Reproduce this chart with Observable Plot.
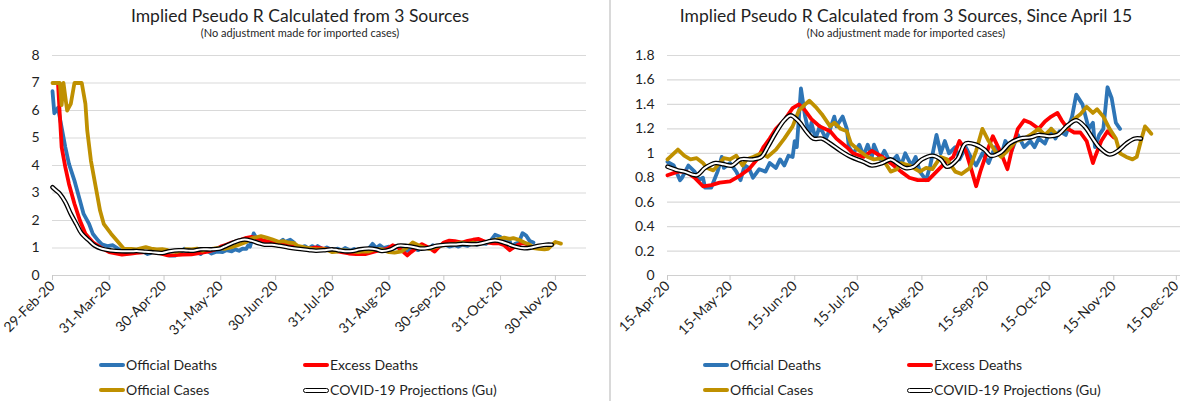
<!DOCTYPE html>
<html>
<head>
<meta charset="utf-8">
<script src="https://cdn.jsdelivr.net/npm/d3@7"></script>
<script src="https://cdn.jsdelivr.net/npm/@observablehq/plot@0.6"></script>
<style>
  html, body { margin: 0; padding: 0; background: #fff; }
  body { width: 1200px; height: 401px; position: relative; overflow: hidden; font-family: Lato, "Open Sans", sans-serif; color: #262626; }
  .panel { position: absolute; top: 0; width: 600px; height: 401px; }
  .title { position: absolute; top: 5px; left: 0; width: 600px; text-align: center; font-size: 17.5px; line-height: 21px; color: #1f1f1f; }
  .subtitle { position: absolute; top: 26px; left: 0; width: 600px; text-align: center; font-size: 11px; line-height: 14px; color: #1f1f1f; }
  .plot { position: absolute; top: 40px; left: 0; }
  .leg { position: absolute; font-size: 14px; line-height: 18px; display: flex; align-items: center; color: #1f1f1f; }
  .sw { display: inline-block; width: 26px; height: 4px; border-radius: 2px; margin-right: 1px; }
  .sw.gu { height: 3px; background: #fff; border: 1px solid #000; width: 24px; border-radius: 3px; }
  .sep { position: absolute; left: 609px; top: 0; width: 1.5px; height: 401px; background: #d9d9d9; }
</style>
</head>
<body>
<div class="sep"></div>
<div class="panel" id="left" style="left:0">
  <div class="title">Implied Pseudo R Calculated from 3 Sources</div>
  <div class="subtitle">(No adjustment made for imported cases)</div>
  <div class="plot" id="leftPlot"></div>
</div>
<div class="panel" id="right" style="left:600px">
  <div class="title" style="left:6px">Implied Pseudo R Calculated from 3 Sources, Since April 15</div>
  <div class="subtitle" style="left:6px">(No adjustment made for imported cases)</div>
  <div class="plot" id="rightPlot"></div>
</div>
<script>
// ---------- data ----------
const seriesNames = ["Official Deaths", "Excess Deaths", "Official Cases", "COVID-19 Projections (Gu)"];
const seriesColors = ["#2E75B6", "#FF0000", "#BF9000", "#000000"];

const leftXTickLabels = ["29-Feb-20","31-Mar-20","30-Apr-20","31-May-20","30-Jun-20","31-Jul-20","31-Aug-20","30-Sep-20","31-Oct-20","30-Nov-20"];
const rightXTickLabels = ["15-Apr-20","15-May-20","15-Jun-20","15-Jul-20","15-Aug-20","15-Sep-20","15-Oct-20","15-Nov-20","15-Dec-20"];
const leftYTickLabels = ["0","1","2","3","4","5","6","7","8"];
const rightYTickLabels = ["0","0.2","0.4","0.6","0.8","1","1.2","1.4","1.6","1.8"];

const officialDeaths = [
  ["2020-02-29",6.7],["2020-03-01",5.9],["2020-03-03",6.1],["2020-03-07",4.67],["2020-03-09",4.06],
  ["2020-03-12",3.45],["2020-03-15",2.73],["2020-03-17",2.24],["2020-03-20",1.88],["2020-03-22",1.52],
  ["2020-03-25",1.27],["2020-03-27",1.13],["2020-03-30",1.07],["2020-04-02",1.1],["2020-04-05",0.97],
  ["2020-04-08",0.85],["2020-04-12",0.88],
  ["2020-04-15",0.93],["2020-04-18",0.90],["2020-04-21",0.78],["2020-04-22",0.80],["2020-04-25",0.90],
  ["2020-04-28",0.85],["2020-04-30",0.78],["2020-05-02",0.80],["2020-05-03",0.72],["2020-05-06",0.72],
  ["2020-05-09",0.85],["2020-05-11",0.97],["2020-05-12",0.88],["2020-05-15",0.92],["2020-05-18",0.85],
  ["2020-05-20",0.78],["2020-05-22",0.90],["2020-05-24",0.88],["2020-05-26",0.80],["2020-05-29",0.87],
  ["2020-06-01",0.85],["2020-06-03",0.92],["2020-06-06",0.88],["2020-06-08",0.95],["2020-06-10",0.90],
  ["2020-06-12",0.98],["2020-06-14",0.97],["2020-06-15",1.10],["2020-06-16",1.05],["2020-06-18",1.53],
  ["2020-06-20",1.30],["2020-06-22",1.15],["2020-06-23",1.25],["2020-06-25",1.12],["2020-06-27",1.22],
  ["2020-06-30",1.12],["2020-07-02",1.20],["2020-07-04",1.30],["2020-07-05",1.22],["2020-07-08",1.30],
  ["2020-07-10",1.20],["2020-07-11",1.05],["2020-07-13",1.00],["2020-07-16",1.07],["2020-07-18",0.98],
  ["2020-07-20",1.07],["2020-07-22",0.97],["2020-07-23",1.07],["2020-07-26",0.95],["2020-07-28",1.02],
  ["2020-07-31",0.92],["2020-08-03",0.98],["2020-08-05",0.90],["2020-08-07",1.00],["2020-08-10",0.90],
  ["2020-08-12",0.97],["2020-08-14",0.85],["2020-08-17",0.78],["2020-08-19",0.90],["2020-08-22",1.15],
  ["2020-08-24",1.00],["2020-08-26",1.10],["2020-08-28",1.00],["2020-08-31",1.05],["2020-09-02",0.95],
  ["2020-09-05",1.05],["2020-09-08",0.95],["2020-09-10",0.90],["2020-09-13",1.00],["2020-09-16",0.92],
  ["2020-09-19",1.05],["2020-09-22",0.98],["2020-09-24",1.10],["2020-09-27",1.02],["2020-09-30",1.15],
  ["2020-10-03",1.05],["2020-10-06",1.10],["2020-10-08",1.05],["2020-10-10",1.12],["2020-10-13",1.08],
  ["2020-10-16",1.20],["2020-10-18",1.12],["2020-10-20",1.18],["2020-10-23",1.15],["2020-10-26",1.30],
  ["2020-10-28",1.48],["2020-10-31",1.40],["2020-11-03",1.20],["2020-11-05",1.25],["2020-11-06",1.05],
  ["2020-11-08",1.15],["2020-11-10",1.20],["2020-11-12",1.54],["2020-11-14",1.45],["2020-11-16",1.25],
  ["2020-11-18",1.20]
];

const excessDeaths = [
  ["2020-03-03",7.0],["2020-03-05",4.67],["2020-03-07",3.94],["2020-03-09",3.33],["2020-03-12",2.61],
  ["2020-03-15",2.0],["2020-03-18",1.52],["2020-03-22",1.21],["2020-03-26",1.03],["2020-03-31",0.85],
  ["2020-04-07",0.76],["2020-04-12",0.80],
  ["2020-04-15",0.82],["2020-04-20",0.85],["2020-04-24",0.85],["2020-04-28",0.80],["2020-05-02",0.73],
  ["2020-05-06",0.74],["2020-05-10",0.76],["2020-05-15",0.77],["2020-05-20",0.82],["2020-05-24",0.87],
  ["2020-05-28",0.95],["2020-05-31",1.05],["2020-06-03",1.12],["2020-06-06",1.20],["2020-06-10",1.27],
  ["2020-06-14",1.37],["2020-06-17",1.40],["2020-06-20",1.35],["2020-06-23",1.28],["2020-06-27",1.22],
  ["2020-07-02",1.18],["2020-07-05",1.12],["2020-07-10",1.05],["2020-07-13",1.00],["2020-07-18",0.97],
  ["2020-07-22",1.02],["2020-07-27",0.97],["2020-07-31",0.92],["2020-08-05",0.85],["2020-08-09",0.80],
  ["2020-08-13",0.78],["2020-08-18",0.78],["2020-08-22",0.85],["2020-08-26",0.92],["2020-08-30",0.97],
  ["2020-09-02",1.10],["2020-09-05",1.02],["2020-09-08",0.85],["2020-09-10",0.73],["2020-09-12",0.85],
  ["2020-09-16",1.05],["2020-09-18",1.14],["2020-09-22",1.00],["2020-09-25",0.87],["2020-09-27",1.02],
  ["2020-09-30",1.20],["2020-10-03",1.27],["2020-10-06",1.25],["2020-10-10",1.20],["2020-10-13",1.26],
  ["2020-10-16",1.30],["2020-10-19",1.33],["2020-10-21",1.27],["2020-10-24",1.20],["2020-10-27",1.17],
  ["2020-10-30",1.17],["2020-11-02",1.10],["2020-11-05",0.92],["2020-11-06",0.97],["2020-11-09",1.10],
  ["2020-11-12",1.18],["2020-11-15",1.13]
];

const officialCases = [
  ["2020-02-29",7.0],["2020-03-04",7.0],["2020-03-05",6.2],["2020-03-06",7.0],["2020-03-08",6.0],
  ["2020-03-10",6.24],["2020-03-12",7.0],["2020-03-16",7.0],["2020-03-18",6.24],["2020-03-19",5.27],
  ["2020-03-21",4.18],["2020-03-23",3.45],["2020-03-26",2.36],["2020-03-28",1.88],["2020-04-01",1.52],
  ["2020-04-05",1.21],["2020-04-08",0.97],["2020-04-12",0.97],
  ["2020-04-15",0.95],["2020-04-20",1.03],["2020-04-23",0.98],["2020-04-26",0.95],["2020-04-29",0.96],
  ["2020-05-02",0.92],["2020-05-04",0.88],["2020-05-07",0.86],["2020-05-10",0.92],["2020-05-12",0.96],
  ["2020-05-15",0.95],["2020-05-18",0.98],["2020-05-21",0.90],["2020-05-23",0.95],["2020-05-26",0.97],
  ["2020-05-30",1.00],["2020-06-02",0.97],["2020-06-06",1.03],["2020-06-10",1.12],["2020-06-14",1.22],
  ["2020-06-17",1.35],["2020-06-20",1.40],["2020-06-22",1.43],["2020-06-25",1.38],["2020-06-28",1.32],
  ["2020-07-02",1.22],["2020-07-04",1.25],["2020-07-07",1.20],["2020-07-10",1.18],["2020-07-12",1.08],
  ["2020-07-16",1.02],["2020-07-20",0.97],["2020-07-23",0.95],["2020-07-27",0.96],["2020-07-31",0.85],
  ["2020-08-03",0.87],["2020-08-05",0.92],["2020-08-09",0.90],["2020-08-14",0.85],["2020-08-17",0.88],
  ["2020-08-20",0.87],["2020-08-24",0.97],["2020-08-27",0.95],["2020-08-31",0.85],["2020-09-03",0.83],
  ["2020-09-07",0.88],["2020-09-10",1.02],["2020-09-13",1.20],["2020-09-16",1.10],["2020-09-19",1.02],
  ["2020-09-22",0.97],["2020-09-25",1.02],["2020-09-29",1.10],["2020-10-03",1.12],["2020-10-06",1.15],
  ["2020-10-10",1.20],["2020-10-13",1.15],["2020-10-16",1.20],["2020-10-19",1.15],["2020-10-23",1.20],
  ["2020-10-27",1.28],["2020-10-30",1.32],["2020-11-02",1.38],["2020-11-05",1.33],["2020-11-07",1.36],
  ["2020-11-10",1.30],["2020-11-13",1.20],["2020-11-16",1.12],["2020-11-18",1.00],["2020-11-21",0.97],
  ["2020-11-24",0.95],["2020-11-26",0.97],["2020-11-28",1.10],["2020-11-30",1.22],["2020-12-01",1.20],
  ["2020-12-03",1.16]
];

const guProjections = [
  ["2020-02-29",3.21],["2020-03-02",3.09],["2020-03-04",2.97],["2020-03-07",2.67],["2020-03-10",2.24],
  ["2020-03-13",1.88],["2020-03-16",1.52],["2020-03-20",1.27],["2020-03-23",1.09],["2020-03-27",0.97],
  ["2020-04-01",0.91],["2020-04-07",0.88],["2020-04-12",0.88],
  ["2020-04-15",0.89],["2020-04-20",0.86],["2020-04-23",0.85],["2020-04-29",0.82],["2020-05-03",0.88],
  ["2020-05-08",0.92],["2020-05-12",0.91],["2020-05-16",0.90],["2020-05-20",0.95],["2020-05-26",0.95],
  ["2020-05-30",0.97],["2020-06-02",1.05],["2020-06-06",1.17],["2020-06-10",1.27],["2020-06-13",1.31],
  ["2020-06-17",1.26],["2020-06-21",1.17],["2020-06-24",1.12],["2020-06-28",1.12],["2020-07-02",1.08],
  ["2020-07-07",1.02],["2020-07-12",0.97],["2020-07-18",0.93],["2020-07-22",0.90],["2020-07-27",0.92],
  ["2020-07-31",0.95],["2020-08-03",0.92],["2020-08-07",0.88],["2020-08-11",0.89],["2020-08-15",0.95],
  ["2020-08-20",0.98],["2020-08-24",0.95],["2020-08-27",0.89],["2020-09-01",0.95],["2020-09-05",1.08],
  ["2020-09-10",1.07],["2020-09-14",1.03],["2020-09-17",0.98],["2020-09-22",1.01],["2020-09-26",1.08],
  ["2020-10-01",1.12],["2020-10-06",1.13],["2020-10-10",1.15],["2020-10-15",1.14],["2020-10-19",1.15],
  ["2020-10-24",1.23],["2020-10-28",1.27],["2020-11-01",1.22],["2020-11-05",1.12],["2020-11-08",1.05],
  ["2020-11-13",0.99],["2020-11-17",1.02],["2020-11-21",1.08],["2020-11-25",1.12],["2020-11-28",1.12]
];

// ---------- build ----------
const parseISO = d3.utcParse("%Y-%m-%d");
const parseTick = d3.utcParse("%d-%b-%y");
const fmtTick = d3.utcFormat("%-d-%b-%y");
const toRows = (arr) => arr.map(([d, v]) => ({date: parseISO(d), value: v}));
const allSeries = [officialDeaths, excessDeaths, officialCases, guProjections].map(toRows);

function makeChart({xStart, xEnd, xTickLabels, yTickLabels, marginLeft, marginRight, minDate}) {
  const xTicks = xTickLabels.map(parseTick);
  const yTicks = yTickLabels.map(Number);
  const data = allSeries.map(rows => minDate ? rows.filter(r => r.date >= minDate) : rows);
  const colored = [0, 1, 2].map(i =>
    Plot.line(data[i], {x: "date", y: "value", stroke: seriesColors[i], strokeWidth: 3.8,
      strokeLinejoin: "round", strokeLinecap: "round"}));
  return Plot.plot({
    width: 600,
    height: 305,
    marginTop: 15,
    marginBottom: 70,
    marginLeft,
    marginRight,
    style: {fontFamily: "Lato, 'Open Sans', sans-serif", fontSize: "14px", color: "#262626", background: "transparent"},
    x: {type: "utc", domain: [parseISO(xStart), parseISO(xEnd)], label: null},
    y: {domain: [yTicks[0], yTicks[yTicks.length - 1]], label: null},
    marks: [
      Plot.gridY(yTicks.slice(1), {stroke: "#d9d9d9", strokeOpacity: 1, strokeWidth: 1.2}),
      Plot.axisY(yTicks, {tickSize: 0, tickPadding: 13, fill: "#1f1f1f", fontSize: 14, label: null,
        tickFormat: (d) => yTickLabels[yTicks.indexOf(d)]}),
      Plot.ruleY([0], {stroke: "#d0d0d0", strokeWidth: 1.2}),
      Plot.axisX(xTicks, {tickSize: 5, tickPadding: 3, tickRotate: -45, stroke: "#c8c8c8", label: null,
        fill: "#1f1f1f", fontSize: 14, tickFormat: fmtTick}),
      ...colored,
      Plot.line(data[3], {x: "date", y: "value", stroke: "#000", strokeWidth: 4.6, curve: "catmull-rom"}),
      Plot.line(data[3], {x: "date", y: "value", stroke: "#fff", strokeWidth: 2.0, curve: "catmull-rom"})
    ]
  });
}

document.getElementById("leftPlot").append(makeChart({
  xStart: "2020-02-29", xEnd: "2020-12-17", xTickLabels: leftXTickLabels, yTickLabels: leftYTickLabels,
  marginLeft: 52, marginRight: 14
}));
document.getElementById("rightPlot").append(makeChart({
  xStart: "2020-04-15", xEnd: "2020-12-17", xTickLabels: rightXTickLabels, yTickLabels: rightYTickLabels,
  marginLeft: 67, marginRight: 20, minDate: parseISO("2020-04-15")
}));

// ---------- legends ----------
function addLegend(panelId, col1, col2) {
  const panel = document.getElementById(panelId);
  const rows = [[0, 1], [2, 3]];
  const ys = [356, 381];
  rows.forEach((pair, r) => {
    pair.forEach((si, c) => {
      const el = document.createElement("div");
      el.className = "leg";
      el.style.left = (c === 0 ? col1 : col2) + "px";
      el.style.top = ys[r] + "px";
      const sw = document.createElement("span");
      sw.className = si === 3 ? "sw gu" : "sw";
      if (si !== 3) sw.style.background = seriesColors[si];
      const tx = document.createElement("span");
      tx.textContent = seriesNames[si];
      el.append(sw, tx);
      panel.append(el);
    });
  });
}
addLegend("left", 99, 303);
addLegend("right", 103, 307);
</script>
</body>
</html>
